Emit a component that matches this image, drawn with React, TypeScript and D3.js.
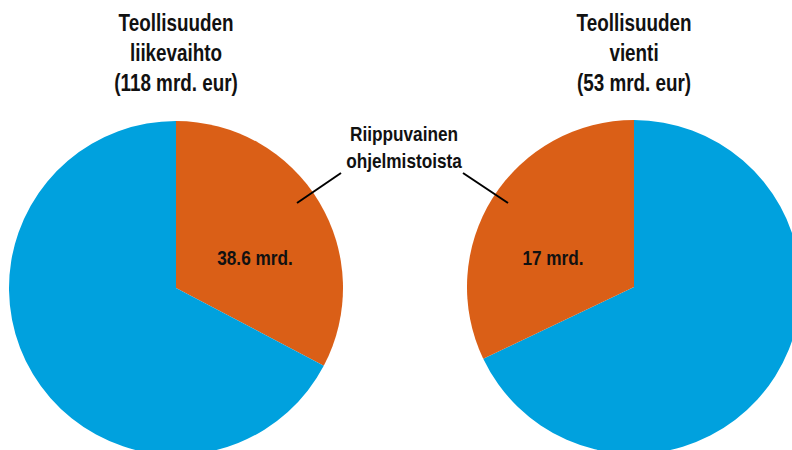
import React, { useRef, useEffect } from "react";
import * as d3 from "d3";

const titles = [
  ["Teollisuuden", "liikevaihto", "(118 mrd. eur)"],
  ["Teollisuuden", "vienti", "(53 mrd. eur)"],
];
const totals = [118, 53];
const dependent = [38.6, 17];
const valueLabels = ["38.6 mrd.", "17 mrd."];
const calloutLines = ["Riippuvainen", "ohjelmistoista"];

const ORANGE = "#DA5F17";
const BLUE = "#00A1DE";
const FONT = "'Liberation Sans', Arial, sans-serif";
const NARROW = 0.82; // no narrow font installed, squeeze instead

export default function App() {
  const ref = useRef<SVGSVGElement>(null);
  const width = 792;
  const height = 450;

  useEffect(() => {
    const svg = d3.select(ref.current);
    svg.selectAll("*").remove();

    const radius = 167;
    const centers = [
      { x: 176, y: 288 },
      { x: 634, y: 287 },
    ];
    const arc = d3.arc<d3.PieArcDatum<any>>().innerRadius(0).outerRadius(radius);
    const pie = d3.pie<any>().sort(null).value((d: any) => d.v);

    const addText = (x: number, y: number, lines: string[], size: number, lh: number) => {
      const t = svg
        .append("text")
        .attr("transform", `translate(${x},${y}) scale(${NARROW},1)`)
        .attr("text-anchor", "middle")
        .attr("font-family", FONT)
        .attr("font-weight", "bold")
        .attr("font-size", size)
        .attr("fill", "#111");
      lines.forEach((line, j) => {
        t.append("tspan").attr("x", 0).attr("dy", j === 0 ? 0 : lh).text(line);
      });
    };

    totals.forEach((tot, i) => {
      const rest = tot - dependent[i];
      // left pie: dependent slice clockwise from top; right pie: counter-clockwise
      const parts =
        i === 0
          ? [{ v: dependent[i], c: ORANGE }, { v: rest, c: BLUE }]
          : [{ v: rest, c: BLUE }, { v: dependent[i], c: ORANGE }];
      const g = svg
        .append("g")
        .attr("transform", `translate(${centers[i].x},${centers[i].y})`);
      g.selectAll("path")
        .data(pie(parts))
        .enter()
        .append("path")
        .attr("d", arc as any)
        .attr("fill", (d: any) => d.data.c);

      addText(centers[i].x, 31, titles[i], 23, 30);
      addText(i === 0 ? 255 : 553, 265, [valueLabels[i]], 21, 0);
    });

    // callout
    addText(404, 141, calloutLines, 21, 27);

    const leaders = [
      [[297, 203], [341, 173]],
      [[463, 173], [508, 203]],
    ];
    leaders.forEach((l) => {
      svg
        .append("line")
        .attr("x1", l[0][0])
        .attr("y1", l[0][1])
        .attr("x2", l[1][0])
        .attr("y2", l[1][1])
        .attr("stroke", "#000")
        .attr("stroke-width", 2);
    });
  }, []);

  return (
    <svg
      ref={ref}
      width={width}
      height={height}
      style={{ position: "absolute", left: 0, top: 0, background: "#fff" }}
    />
  );
}
